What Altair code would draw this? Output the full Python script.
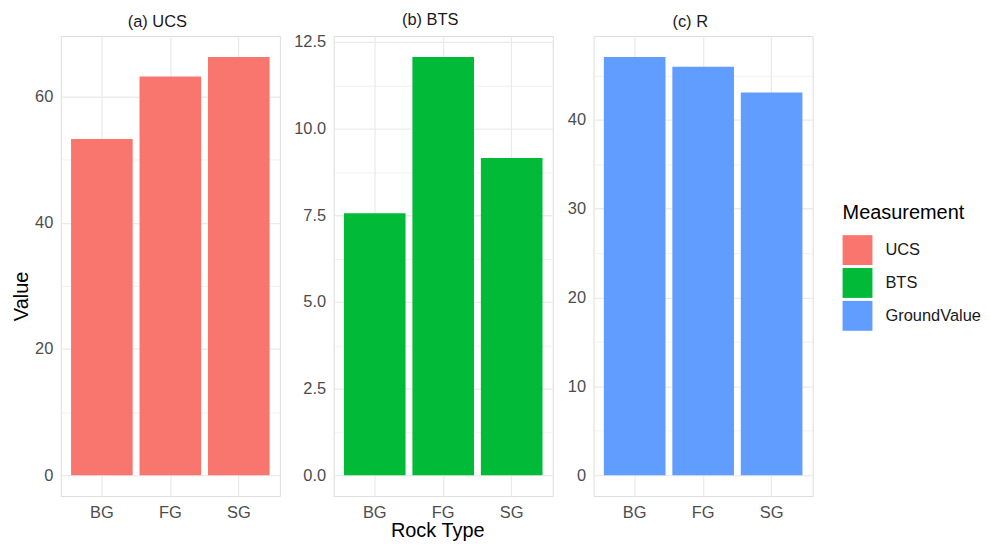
import altair as alt
import pandas as pd

# ---- data ----
rock_types = ["BG", "FG", "SG"]
measurements = ["UCS", "BTS", "GroundValue"]
panel_titles = ["(a) UCS", "(b) BTS", "(c) R"]
ucs_values = [53.3, 63.2, 66.3]
bts_values = [7.56, 12.07, 9.15]
ground_values = [47.1, 46.0, 43.1]
major_ticks_ucs = [0, 20, 40, 60]
major_ticks_bts = [0, 2.5, 5, 7.5, 10, 12.5]
major_ticks_ground = [0, 10, 20, 30, 40]
palette = ["#F8766D", "#00BA38", "#619CFF"]

series = [ucs_values, bts_values, ground_values]
majors = [major_ticks_ucs, major_ticks_bts, major_ticks_ground]
formats = ["d", ".1f", "d"]

rows = []
for m, vals in zip(measurements, series):
    for r, v in zip(rock_types, vals):
        rows.append({"Rock": r, "Measurement": m, "Value": v})
df = pd.DataFrame(rows)

FONT = "Liberation Sans"
GRID = "#EBEBEB"
axis_extents = [27, 40, 27]

panels = []
for i, m in enumerate(measurements):
    vals = series[i]
    vmax = max(vals)
    dom = [-0.05 * vmax, 1.05 * vmax]
    mj = majors[i]
    half = (mj[1] - mj[0]) / 2
    grid_vals = []
    k = 0
    while k * half <= dom[1]:
        grid_vals.append(round(k * half, 6))
        k += 1
    major_str = "[" + ",".join(str(v) for v in mj) + "]"
    y_kwargs = dict(
        values=grid_vals,
        labelExpr=f"indexof({major_str}, datum.value) >= 0 ? format(datum.value, '{formats[i]}') : ''",
        format=formats[i],
        ticks=False,
        tickSize=0,
        domain=False,
        labelPadding=8,
        labelFontSize=16.5,
        labelColor="#4D4D4D",
        labelOverlap=False,
        labelFont=FONT,
        gridColor=GRID,
        gridWidth={"condition": {"test": f"indexof({major_str}, datum.value) >= 0", "value": 1.3}, "value": 0.7},
        minExtent=axis_extents[i],
        maxExtent=axis_extents[i],
        title="Value" if i == 0 else None,
        titleFontSize=20,
        titleFontWeight="normal",
        titleColor="#000000",
        titleFont=FONT,
        titlePadding=2,
    )
    if i == 0:
        y_kwargs["titleY"] = 261
    y_axis = alt.Axis(**y_kwargs)
    x_kwargs = dict(
        labelAngle=0,
        ticks=False,
        tickSize=0,
        domain=False,
        labelPadding=8,
        labelFontSize=16.5,
        labelColor="#4D4D4D",
        labelFont=FONT,
        grid=True,
        bandPosition=0.5,
        gridColor=GRID,
        gridWidth=1.3,
        title="Rock Type" if i == 1 else None,
        titleFontSize=20,
        titleFontWeight="normal",
        titleColor="#000000",
        titleFont=FONT,
        titlePadding=0,
    )
    if i == 1:
        x_kwargs["titleX"] = 104
    x_axis = alt.Axis(**x_kwargs)
    ch = (
        alt.Chart(df)
        .transform_filter(alt.datum.Measurement == m)
        .mark_bar()
        .encode(
            x=alt.X("Rock:N", sort=rock_types,
                    scale=alt.Scale(paddingInner=0.1, paddingOuter=0.15),
                    axis=x_axis),
            y=alt.Y("Value:Q", scale=alt.Scale(domain=dom, nice=False, zero=False),
                    axis=y_axis),
            y2=alt.datum(0),
            color=alt.Color(
                "Measurement:N",
                scale=alt.Scale(domain=measurements, range=palette),
                legend=alt.Legend(
                    title="Measurement",
                    orient="none",
                    legendX=785,
                    legendY=168,
                    symbolType="square",
                    symbolSize=900,
                    symbolStrokeWidth=0,
                    symbolOpacity=1,
                    labelFontSize=16.5,
                    labelColor="#1A1A1A",
                    labelFont=FONT,
                    labelOffset=13,
                    titleFontSize=20,
                    titleFontWeight="normal",
                    titleColor="#000000",
                    titleFont=FONT,
                    titlePadding=12,
                    rowPadding=3,
                    padding=0,
                ),
            ),
        )
        .properties(
            width=220,
            height=462,
            title=alt.TitleParams(
                panel_titles[i],
                anchor="middle",
                dx=-13,
                fontSize=16.5,
                fontWeight="normal",
                color="#1A1A1A",
                font=FONT,
                offset=6,
            ),
        )
    )
    panels.append(ch)

chart = (
    alt.hconcat(*panels, spacing=12)
    .properties(padding={"left": 3, "top": 2, "right": 0, "bottom": 0})
    .configure_view(stroke=None)
    .configure(font=FONT, background="#FFFFFF")
)

chart.save("out.html", embed_options={"renderer": "svg", "actions": False})
